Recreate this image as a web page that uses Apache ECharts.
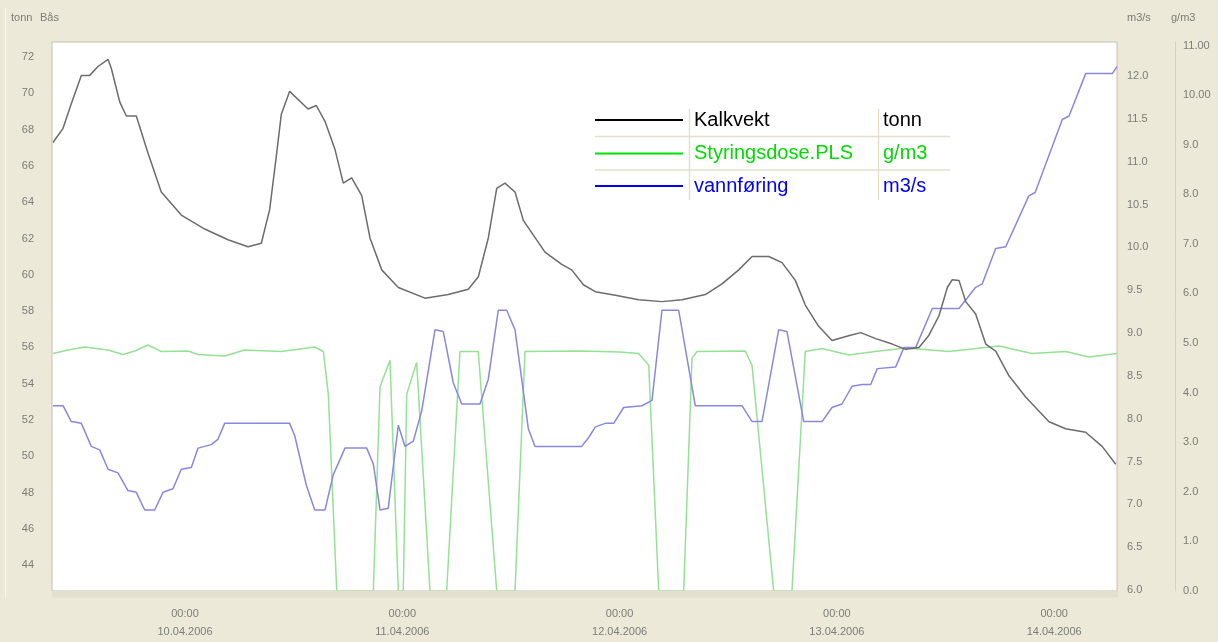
<!DOCTYPE html>
<html><head><meta charset="utf-8">
<script src="https://cdn.jsdelivr.net/npm/echarts@6/dist/echarts.min.js"></script>
<style>html,body{margin:0;padding:0;background:#ece9d8}#c{width:1218px;height:642px}</style>
</head><body><div id="c"></div>
<script>
// Hours relative to 10.04.2006 00:00
const kalkHours = [-14.58,-13.47,-12.56,-11.45,-10.53,-9.61,-8.50,-8.14,-7.21,-6.48,-5.38,-4.09,-2.62,-0.41,2.18,4.75,6.96,8.43,9.35,10.08,10.64,11.56,13.59,14.50,15.46,16.57,17.48,18.41,19.52,20.43,21.73,23.56,26.51,29.08,31.29,32.40,33.50,34.43,35.34,36.45,37.37,38.29,39.76,41.61,42.71,44.00,45.32,47.53,50.11,52.68,54.89,57.47,59.31,61.16,62.63,64.47,65.94,67.41,68.51,69.99,71.46,73.50,74.63,76.29,78.12,79.60,81.07,82.17,83.28,84.20,84.75,85.49,86.23,87.33,88.44,89.54,91.01,92.85,95.43,97.27,99.48,101.32,102.80];
const kalkTonn = [67.29,68.07,69.43,70.99,70.99,71.48,71.87,71.38,69.53,68.75,68.75,66.71,64.56,63.29,62.52,61.93,61.54,61.74,63.59,66.51,68.85,70.11,69.14,69.33,68.46,66.90,65.05,65.34,64.36,62.03,60.27,59.30,58.71,58.91,59.20,59.89,62.03,64.76,65.05,64.56,63.00,62.32,61.25,60.57,60.27,59.45,59.07,58.87,58.62,58.52,58.62,58.91,59.50,60.27,61.01,61.01,60.67,59.69,58.33,57.16,56.38,56.67,56.81,56.48,56.18,55.89,55.99,56.67,57.74,59.30,59.73,59.69,58.52,57.84,56.18,55.79,54.43,53.26,51.90,51.51,51.32,50.53,49.56];

const flowHours = [-14.58,-13.47,-12.56,-11.45,-10.35,-9.42,-8.50,-7.40,-6.30,-5.38,-4.45,-3.35,-2.43,-1.33,-0.41,0.70,1.44,2.90,3.64,4.38,11.56,12.12,13.40,14.33,15.46,16.38,17.67,20.07,20.80,21.54,22.45,23.56,24.30,25.22,26.14,27.61,28.53,29.63,30.56,32.58,33.50,34.60,35.53,36.45,37.19,37.92,38.66,43.81,44.59,45.32,46.42,47.35,48.45,50.48,51.58,52.68,54.53,56.36,61.52,62.63,63.73,65.57,66.49,68.34,70.36,71.46,72.56,73.67,74.81,75.74,76.46,78.50,79.41,80.71,82.54,85.49,87.33,88.06,89.54,90.65,93.20,93.90,96.90,97.64,99.48,102.42,102.94];
const flowM3s = [8.151,8.151,7.966,7.945,7.676,7.635,7.409,7.367,7.161,7.140,6.934,6.934,7.140,7.181,7.409,7.429,7.656,7.697,7.759,7.945,7.945,7.800,7.223,6.934,6.934,7.347,7.656,7.656,7.471,6.934,6.955,7.924,7.676,7.738,8.089,9.037,9.017,8.419,8.171,8.171,8.461,9.265,9.265,9.037,8.461,7.883,7.676,7.676,7.780,7.904,7.945,7.945,8.130,8.151,8.213,9.265,9.265,8.151,8.151,7.966,7.966,9.037,9.017,7.966,7.966,8.130,8.171,8.378,8.399,8.399,8.584,8.604,8.832,8.832,9.285,9.285,9.533,9.574,9.986,10.007,10.600,10.640,11.492,11.533,12.028,12.028,12.11];

const doseHours = [-14.58,-12.92,-11.08,-8.50,-6.85,-5.56,-4.09,-2.62,0.33,1.44,4.38,6.59,10.64,14.33,15.28,15.83,16.76,20.80,21.54,22.64,23.56,24.11,24.49,25.59,27.06,28.90,30.37,32.39,34.43,36.45,37.55,43.85,48.05,50.11,51.22,52.32,55.08,56.00,56.55,61.89,62.63,65.02,67.04,68.51,70.36,73.34,76.21,79.60,84.38,89.91,93.55,97.27,99.85,102.94];
const doseGm3 = [4.79,4.86,4.92,4.86,4.77,4.84,4.96,4.83,4.84,4.77,4.74,4.86,4.83,4.92,4.83,3.97,0,0,4.12,4.65,0,0,3.97,4.61,0,0,4.83,4.83,0,0,4.83,4.84,4.82,4.79,4.55,0,0,4.69,4.83,4.84,4.55,0,0,4.83,4.89,4.76,4.83,4.90,4.83,4.94,4.79,4.83,4.72,4.79];

const xTickHours = [0,24,48,72,96];
const xTickLabels = ['00:00\n10.04.2006','00:00\n11.04.2006','00:00\n12.04.2006','00:00\n13.04.2006','00:00\n14.04.2006'];
const tonnTicks = [44,46,48,50,52,54,56,58,60,62,64,66,68,70,72];
const flowTicks = [6.0,6.5,7.0,7.5,8.0,8.5,9.0,9.5,10.0,10.5,11.0,11.5,12.0];
const doseTicks = [0,1,2,3,4,5,6,7,8,9,10,11];

const seriesNames = ['Kalkvekt','Styringsdose.PLS','vannføring'];
const seriesUnits = ['tonn','g/m3','m3/s'];

const pair = (xs, ys) => xs.map((x, i) => [x, ys[i]]);
const FONT = '"Liberation Sans", Arial, sans-serif';
const LABEL = '#7c7c78';

const chart = echarts.init(document.getElementById('c'));
const legendRowsY = [120, 153.5, 186];
const legendLineColors = ['#000000', '#00e000', '#0000ff'];
const legendTextColors = ['#000000', '#00dd00', '#0000ff'];
const legendEls = [
  {type:'rect', shape:{x:593,y:108,width:360,height:92}, style:{fill:'#ffffff'}},
  {type:'line', shape:{x1:689.5,y1:109,x2:689.5,y2:200}, style:{stroke:'#e4e0cc',lineWidth:1.5}},
  {type:'line', shape:{x1:878.5,y1:109,x2:878.5,y2:200}, style:{stroke:'#e4e0cc',lineWidth:1.5}},
  {type:'line', shape:{x1:595,y1:136.5,x2:950,y2:136.5}, style:{stroke:'#e4e0cc',lineWidth:1.5}},
  {type:'line', shape:{x1:595,y1:170,x2:950,y2:170}, style:{stroke:'#e4e0cc',lineWidth:1.5}}
];
seriesNames.forEach((n, i) => {
  legendEls.push({type:'line', shape:{x1:595,y1:legendRowsY[i],x2:683,y2:legendRowsY[i]}, style:{stroke:legendLineColors[i],lineWidth:2}});
  legendEls.push({type:'text', x:694, y:legendRowsY[i], style:{text:n, fill:legendTextColors[i], font:'20px ' + FONT, verticalAlign:'middle'}});
  legendEls.push({type:'text', x:883, y:legendRowsY[i], style:{text:seriesUnits[i], fill:legendTextColors[i], font:'20px ' + FONT, verticalAlign:'middle'}});
});

chart.setOption({
  animation: false,
  backgroundColor: '#ece9d8',
  grid: {left:52, right:101, top:42, bottom:51, show:true, backgroundColor:'#ffffff', borderColor:'#c4c0b0', borderWidth:1},
  xAxis: {
    type:'value', min:-14.69, max:102.94,
    axisLine:{show:false}, axisTick:{show:false}, splitLine:{show:false},
    axisLabel:{customValues:xTickHours, formatter:(v)=>xTickLabels[xTickHours.indexOf(Math.round(v))] || '',
      color:LABEL, fontSize:11, fontFamily:FONT, lineHeight:18, margin:14}
  },
  yAxis: [
    {type:'value', position:'left', min:42.57, max:72.83,
      axisLine:{show:false}, axisTick:{show:false}, splitLine:{show:false},
      axisLabel:{customValues:tonnTicks, color:LABEL, fontSize:11, fontFamily:FONT, margin:18}},
    {type:'value', position:'right', min:5.988, max:12.397,
      axisLine:{show:false}, axisTick:{show:false}, splitLine:{show:false},
      axisLabel:{customValues:flowTicks, formatter:(v)=>v.toFixed(1), color:LABEL, fontSize:11, fontFamily:FONT, margin:10}},
    {type:'value', position:'right', offset:58, min:0, max:11.07,
      axisLine:{show:true, lineStyle:{color:'#d6d2c2', width:1}}, axisTick:{show:false}, splitLine:{show:false},
      axisLabel:{customValues:doseTicks, formatter:(v)=> v >= 10 ? v.toFixed(2) : v.toFixed(1), color:LABEL, fontSize:11, fontFamily:FONT, margin:8}}
  ],
  series: [
    {name:seriesNames[1], type:'line', yAxisIndex:2, data:pair(doseHours, doseGm3), showSymbol:false, smooth:false, clip:true,
      lineStyle:{color:'#94e294', width:1.5}, itemStyle:{color:'#94e294'}},
    {name:seriesNames[2], type:'line', yAxisIndex:1, data:pair(flowHours, flowM3s), showSymbol:false, smooth:false,
      lineStyle:{color:'#8888e4', width:1.5}, itemStyle:{color:'#8888e4'}},
    {name:seriesNames[0], type:'line', yAxisIndex:0, data:pair(kalkHours, kalkTonn), showSymbol:false, smooth:false,
      lineStyle:{color:'#6c6c6c', width:1.5}, itemStyle:{color:'#6c6c6c'}}
  ],
  graphic: [
    {type:'text', x:11, y:18, style:{text:'tonn', fill:LABEL, font:'11px ' + FONT, verticalAlign:'middle'}},
    {type:'text', x:40, y:18, style:{text:'Bås', fill:LABEL, font:'11px ' + FONT, verticalAlign:'middle'}},
    {type:'text', x:1127, y:18, style:{text:'m3/s', fill:LABEL, font:'11px ' + FONT, verticalAlign:'middle'}},
    {type:'text', x:1171, y:18, style:{text:'g/m3', fill:LABEL, font:'11px ' + FONT, verticalAlign:'middle'}},
    {type:'line', shape:{x1:5.5,y1:8,x2:5.5,y2:598}, style:{stroke:'#f7f5ee',lineWidth:1}},
    {type:'rect', z:100, shape:{x:52,y:590.5,width:1066,height:7}, style:{fill:'#e3e0d0'}},
    {type:'group', children: legendEls}
  ]
});
</script>
</body></html>
